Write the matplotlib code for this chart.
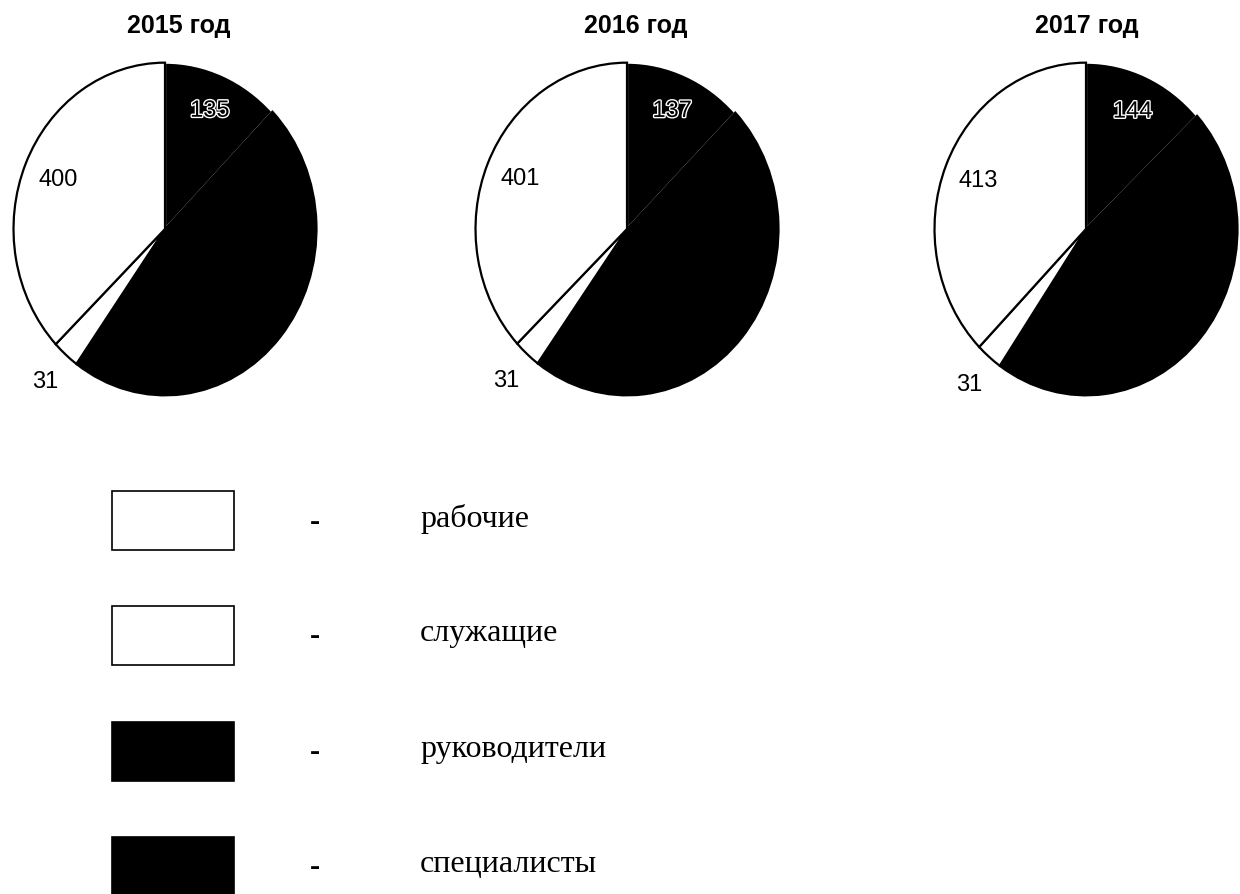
import matplotlib.pyplot as plt
from matplotlib.patches import Rectangle
import matplotlib.patheffects as pe
import numpy as np

# Данные
years = ["2015 год", "2016 год", "2017 год"]
categories = ["руководители", "специалисты", "служащие", "рабочие"]
rukovod = [135, 137, 144]
spec = [510, 512, 512]
sluzh = [31, 31, 31]
rabochie = [400, 401, 413]
show_label = [True, False, True, True]

colors = ["black", "black", "white", "white"]
edges = ["white", "black", "black", "black"]
label_dist = [0.77, 0.0, 1.21, 0.77]

W, H = 1240, 895
fig = plt.figure(figsize=(W / 100, H / 100), dpi=100)

# центры пирогов (в пикселях) и радиусы
centers = [(165, 230), (627, 230), (1086, 230)]
title_x = [179, 636, 1087]
rx, ry = 153, 168

for i, year in enumerate(years):
    cx, cy = centers[i]
    ax = fig.add_axes([(cx - rx) / W, 1 - (cy + ry) / H, 2 * rx / W, 2 * ry / H])
    vals = [rukovod[i], spec[i], sluzh[i], rabochie[i]]
    wedges, _ = ax.pie(vals, colors=colors, startangle=90, counterclock=False,
                       wedgeprops=dict(linewidth=1.6))
    for w, ec in zip(wedges, edges):
        w.set_edgecolor(ec)
    wedges[3].set_zorder(3)
    ax.set_aspect("auto")
    ax.set_xlim(-1.01, 1.01)
    ax.set_ylim(-1.01, 1.01)
    ax.axis("off")

    for k, w in enumerate(wedges):
        if not show_label[k]:
            continue
        mid = np.deg2rad((w.theta1 + w.theta2) / 2)
        x, y = label_dist[k] * np.cos(mid), label_dist[k] * np.sin(mid)
        t = ax.text(x, y, str(vals[k]), ha="center", va="center", fontsize=17,
                    family="Liberation Sans", clip_on=False, zorder=5)
        if colors[k] == "black":
            t.set_path_effects([pe.withStroke(linewidth=2, foreground="white")])

    fig.text(title_x[i] / W, 1 - 26 / H, year, ha="center", va="center",
             fontsize=18, fontweight="bold", family="Liberation Sans")

# Легенда
leg_fc = ["white", "white", "black", "black"]
leg_names = ["рабочие", "служащие", "руководители", "специалисты"]
leg_top = [492, 607, 723, 838]
for fc, name, top in zip(leg_fc, leg_names, leg_top):
    fig.patches.append(Rectangle((112 / W, 1 - (top + 59) / H), 122 / W, 59 / H,
                                 transform=fig.transFigure, facecolor=fc,
                                 edgecolor="black", linewidth=1.2))
    fig.text(315 / W, 1 - (top + 30) / H, "-", ha="center", va="center",
             fontsize=22, family="Liberation Serif", fontweight="bold")
    fig.text(420 / W, 1 - (top + 27) / H, name, ha="left", va="center",
             fontsize=23, family="Liberation Serif")

fig.savefig("out.png", dpi=100, facecolor="white")
